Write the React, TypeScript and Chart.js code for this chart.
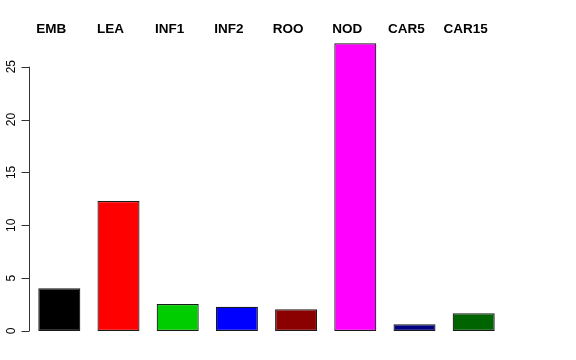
import React, { useEffect, useRef } from "react";
import { Chart, registerables } from "chart.js";

Chart.register(...registerables);

const categories = ["EMB", "LEA", "INF1", "INF2", "ROO", "NOD", "CAR5", "CAR15"];
const values = [4.04, 12.3, 2.55, 2.3, 2.05, 27.21, 0.63, 1.67];
const barColors = ["#000000", "#FF0000", "#00CD00", "#0000FF", "#8B0000", "#FF00FF", "#000080", "#006400"];
const yTicks = [0, 5, 10, 15, 20, 25];

const Y_MIN = -1.088;
const Y_MAX = 28.3;

const rAxisPlugin = {
  id: "rAxis",
  afterDraw(chart: any) {
    const ctx = chart.ctx;
    const y = chart.scales.y;
    const x = chart.scales.x;
    const axisX = chart.chartArea.left - 0.5;
    ctx.save();
    ctx.strokeStyle = "#333333";
    ctx.lineWidth = 1;
    ctx.beginPath();
    ctx.moveTo(Math.round(axisX) + 0.5, y.getPixelForValue(yTicks[0]));
    ctx.lineTo(Math.round(axisX) + 0.5, y.getPixelForValue(yTicks[yTicks.length - 1]));
    ctx.stroke();
    ctx.fillStyle = "#000000";
    ctx.font = "12px 'Liberation Sans', Arial, sans-serif";
    ctx.textAlign = "center";
    ctx.textBaseline = "alphabetic";
    for (const t of yTicks) {
      const py = Math.round(y.getPixelForValue(t)) + 0.5;
      ctx.beginPath();
      ctx.moveTo(Math.round(axisX) + 0.5, py);
      ctx.lineTo(Math.round(axisX) - 7.5, py);
      ctx.stroke();
      ctx.save();
      ctx.translate(14.5, y.getPixelForValue(t));
      ctx.rotate(-Math.PI / 2);
      ctx.fillText(String(t), 0, 0);
      ctx.restore();
    }
    ctx.font = "bold 13.5px 'Liberation Sans', Arial, sans-serif";
    ctx.textBaseline = "middle";
    categories.forEach((c, i) => {
      ctx.fillText(c, x.getPixelForValue(i) - 8, 29.5);
    });
    ctx.restore();
  },
};

export default function App() {
  const ref = useRef<HTMLCanvasElement | null>(null);
  useEffect(() => {
    document.body.style.margin = "0";
    const canvas = ref.current!;
    const chart = new Chart(canvas, {
      type: "bar",
      data: {
        labels: categories,
        datasets: [
          {
            data: values,
            backgroundColor: barColors,
            borderColor: "#1a1a1a",
            borderWidth: 1.2,
            borderSkipped: false,
            barPercentage: 0.71,
            categoryPercentage: 1,
          },
        ],
      },
      options: {
        animation: false,
        responsive: false,
        maintainAspectRatio: false,
        layout: { padding: { left: 29.7, right: 72.7, top: 31.8, bottom: 17.5 } },
        plugins: { legend: { display: false }, tooltip: { enabled: false } },
        scales: {
          x: { display: false, offset: true },
          y: { display: false, min: Y_MIN, max: Y_MAX },
        },
      },
      plugins: [rAxisPlugin],
    });
    return () => chart.destroy();
  }, []);
  return (
    <div style={{ width: 576, height: 360, background: "#fff" }}>
      <canvas ref={ref} width={576} height={360} style={{ display: "block" }} />
    </div>
  );
}
